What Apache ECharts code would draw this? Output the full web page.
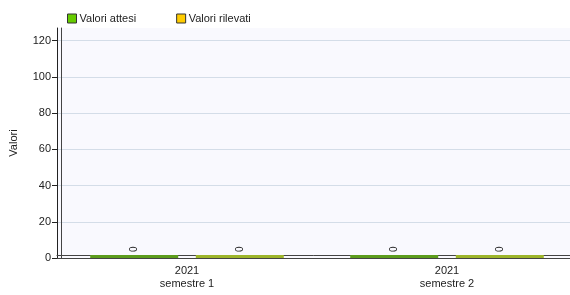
<!DOCTYPE html>
<html>
<head>
<meta charset="utf-8">
<script src="https://cdn.jsdelivr.net/npm/echarts@6/dist/echarts.min.js"></script>
<style>
  html, body { margin: 0; padding: 0; background: #fff; }
  #chart { width: 570px; height: 295px; }
</style>
</head>
<body>
<div id="chart"></div>
<script>
// dati
var categorie = ['2021\nsemestre 1', '2021\nsemestre 2'];
var valoriAttesi = [0, 0];
var valoriRilevati = [0, 0];
var tickValori = [0, 20, 40, 60, 80, 100, 120];

var chart = echarts.init(document.getElementById('chart'));
var font = 'Liberation Sans, Arial, sans-serif';

var etichetta = {
  show: true,
  position: 'top',
  rotate: 90,
  align: 'left',
  verticalAlign: 'middle',
  distance: 3,
  fontSize: 10,
  color: '#222'
};

chart.setOption({
  animation: false,
  textStyle: { fontFamily: font },
  legend: {
    left: 62,
    top: 8,
    itemWidth: 9,
    itemHeight: 9,
    itemGap: 40,
    icon: 'rect',
    textStyle: { fontSize: 11, color: '#222', padding: [0, 0, 0, -2] },
    data: [
      { name: 'Valori attesi', itemStyle: { color: '#66cc00', borderColor: '#333', borderWidth: 1 } },
      { name: 'Valori rilevati', itemStyle: { color: '#ffcc00', borderColor: '#333', borderWidth: 1 } }
    ]
  },
  grid: {
    left: 57,
    width: 520,
    top: 28,
    bottom: 37,
    outerBoundsMode: 'none',
    show: true,
    backgroundColor: '#f9f9fe',
    borderWidth: 0
  },
  xAxis: [
    {
      type: 'category',
      data: categorie,
      axisLine: { lineStyle: { color: '#222', width: 1 } },
      axisTick: { alignWithLabel: true, length: 4, lineStyle: { color: '#222' } },
      axisLabel: { fontSize: 11, color: '#222', lineHeight: 13, margin: 6 },
      splitLine: { show: false }
    },
    {
      type: 'category',
      position: 'top',
      data: categorie,
      axisLine: { lineStyle: { color: '#444', width: 1 } },
      axisTick: { show: false },
      axisLabel: { show: false }
    },
    {
      type: 'category',
      position: 'bottom',
      offset: -3,
      data: categorie,
      axisLine: { lineStyle: { color: '#444', width: 1 } },
      axisTick: { show: false },
      axisLabel: { show: false }
    }
  ],
  yAxis: [
    {
      type: 'value',
      min: 0,
      max: 127,
      interval: 20,
      name: 'Valori',
      nameLocation: 'middle',
      nameGap: 38,
      nameTextStyle: { fontSize: 11, color: '#222' },
      axisLine: { show: true, lineStyle: { color: '#222' } },
      axisTick: { show: true, length: 5, customValues: tickValori, lineStyle: { color: '#222' } },
      axisLabel: { fontSize: 11, color: '#222', margin: 6, customValues: tickValori },
      splitLine: { show: true, lineStyle: { color: '#d4dde8', width: 1 } }
    },
    {
      type: 'value',
      min: 0,
      max: 127,
      position: 'left',
      offset: -4,
      axisLine: { show: true, lineStyle: { color: '#444' } },
      axisTick: { show: false },
      axisLabel: { show: false },
      splitLine: { show: false }
    }
  ],
  series: [
    {
      name: 'Valori attesi',
      type: 'bar',
      data: valoriAttesi,
      barWidth: 88,
      barGap: '20%',
      barMinHeight: 3,
      itemStyle: { color: '#5c9c1c' },
      label: etichetta
    },
    {
      name: 'Valori rilevati',
      type: 'bar',
      data: valoriRilevati,
      barWidth: 88,
      barMinHeight: 3,
      itemStyle: { color: '#9db52a' },
      label: etichetta
    }
  ]
});
</script>
</body>
</html>
